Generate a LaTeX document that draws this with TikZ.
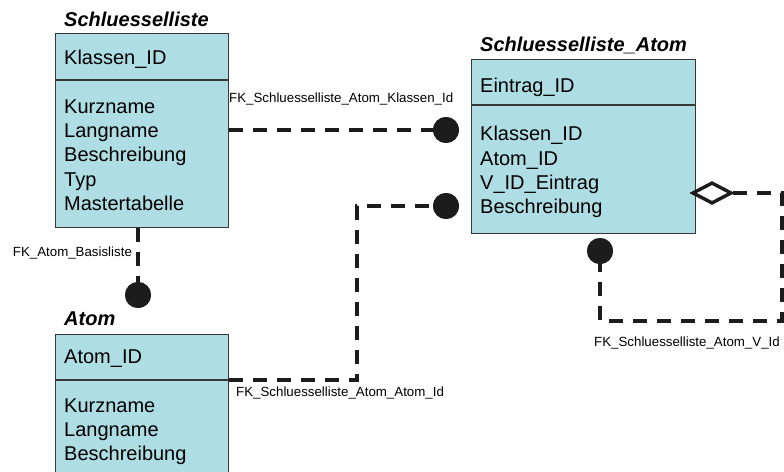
\documentclass[tikz,border=0pt]{standalone}
\usepackage{fontspec}
\setmainfont{Liberation Sans}
\usetikzlibrary{shapes.geometric}
\definecolor{tablefill}{RGB}{174,221,227}
\definecolor{tableedge}{RGB}{55,55,55}
\definecolor{inkdark}{RGB}{28,28,28}
\begin{document}
\begin{tikzpicture}[x=1pt,y=-1pt,
  tablepart/.style={draw=tableedge, line width=1pt, fill=tablefill, rectangle,
    inner sep=0pt, anchor=north west},
  tabletitle/.style={anchor=base west, inner sep=0pt,
    font=\fontsize{20}{24}\selectfont\bfseries\itshape},
  % multi-line field lists are placed by the baseline of their last line
  fields/.style={anchor=base west, inner sep=0pt, align=left,
    font=\fontsize{20}{24.4}\selectfont},
  fklabel/.style={anchor=base west, inner sep=0pt,
    font=\fontsize{13.3}{16}\selectfont},
  fkline/.style={line width=4pt, draw=inkdark, dash pattern=on 14pt off 10pt},
  fkdot/.style={circle, fill=inkdark, minimum size=26pt, inner sep=0pt},
  fkdiamond/.style={diamond, draw=inkdark, fill=white, line width=3.3pt,
    minimum width=39pt, minimum height=21pt, inner sep=0pt}
]
\useasboundingbox (0,0) rectangle (784,471);
\clip (0,0) rectangle (784,471);

% ---- table Schluesselliste
\node[tabletitle] (slTitle) at (64,26) {Schluesselliste};
\node[tablepart, minimum width=173pt, minimum height=45.7pt] (slKey) at (55,33) {};
\node[tablepart, minimum width=173pt, minimum height=147pt] (slBody) at (slKey.south west) {};
\node[fields] (slKeyText) at (64,64.3) {Klassen\_ID};
\node[fields] (slBodyText) at (64,210.6) {Kurzname\\Langname\\Beschreibung\\Typ\\Mastertabelle};

% ---- table Schluesselliste_Atom
\node[tabletitle] (saTitle) at (480,51) {Schluesselliste\_Atom};
\node[tablepart, minimum width=224pt, minimum height=45pt] (saKey) at (471,59) {};
\node[tablepart, minimum width=224pt, minimum height=128pt] (saBody) at (saKey.south west) {};
\node[fields] (saKeyText) at (480,92.7) {Eintrag\_ID};
\node[fields] (saBodyText) at (480,213.9) {Klassen\_ID\\Atom\_ID\\V\_ID\_Eintrag\\Beschreibung};

% ---- table Atom
\node[tabletitle] (atTitle) at (64,325) {Atom};
\node[tablepart, minimum width=173pt, minimum height=45pt] (atKey) at (55,334) {};
\node[tablepart, minimum width=173pt, minimum height=110pt] (atBody) at (atKey.south west) {};
\node[fields] (atKeyText) at (64,363) {Atom\_ID};
\node[fields] (atBodyText) at (64,460.8) {Kurzname\\Langname\\Beschreibung};

% ---- relationship end markers (placed first so connectors can refer to them)
\node[fkdot] (dotKlassen) at (446,130) {};
\node[fkdot] (dotAtom) at (446,206) {};
\node[fkdot] (dotBasis) at (138,295) {};
\node[fkdot] (dotSelf) at (600,251) {};
\node[fkdiamond] (diaSelf) at (712,193) {};

\coordinate (bendAtom) at (357,206);
\coordinate (selfA) at (782,193);
\coordinate (selfB) at (782,321);
\coordinate (selfC) at (600,321);

% ---- connectors
\draw[fkline] (dotKlassen -| slBody.east) -- (dotKlassen.center);
\draw[fkline] (atKey.south east) -| (bendAtom) -- (dotAtom.center);
\draw[fkline] (dotBasis |- slBody.south) -- (dotBasis.center);
\draw[fkline] (diaSelf.east) -- (selfA) -- (selfB) -- (selfC) -- (dotSelf.center);

% redraw markers above the line ends
\node[fkdot] at (dotKlassen) {};
\node[fkdot] at (dotAtom) {};
\node[fkdot] at (dotBasis) {};
\node[fkdot] at (dotSelf) {};
\node[fkdiamond] at (diaSelf) {};

% ---- relationship labels
\node[fklabel] (lblKlassen) at (229,102) {FK\_Schluesselliste\_Atom\_Klassen\_Id};
\node[fklabel] (lblBasis) at (12.7,256) {FK\_Atom\_Basisliste};
\node[fklabel] (lblAtom) at (236,396.7) {FK\_Schluesselliste\_Atom\_Atom\_Id};
\node[fklabel] (lblSelf) at (594,346) {FK\_Schluesselliste\_Atom\_V\_Id};
\end{tikzpicture}
\end{document}
